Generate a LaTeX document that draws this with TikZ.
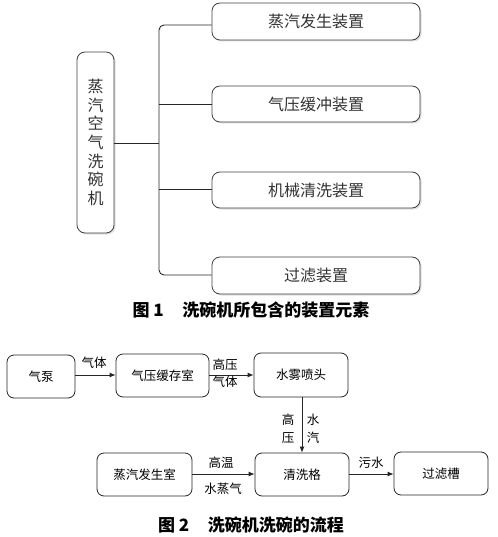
\documentclass[tikz,border=0pt]{standalone}
\usepackage{fontspec}
\setmainfont{Noto Sans CJK SC}
\usetikzlibrary{arrows.meta,shadows}
\begin{document}
\begin{tikzpicture}[x=1pt,y=-1pt,
  tbox/.style={draw=black!75, line width=0.8pt, rounded corners=8pt, fill=white,
    drop shadow={shadow xshift=1.5pt,shadow yshift=-1.5pt,opacity=0.25},
    text=black!80, font=\fontsize{16}{18}\selectfont, inner sep=0pt},
  flowbox/.style={draw=black!85, line width=0.8pt, rounded corners=7pt, fill=white,
    font=\fontsize{12.5}{14}\selectfont, inner sep=0pt},
  lbl/.style={font=\fontsize{12.5}{14}\selectfont, inner sep=0pt},
  link/.style={draw=black!85, line width=0.9pt},
  arr/.style={draw=black!85, line width=0.8pt, -{Latex[length=6pt,width=5pt]}},
  captext/.style={font=\fontsize{17}{19}\selectfont\bfseries, inner sep=0pt}]
\useasboundingbox (0,0) rectangle (497,537);

% ---------- Figure 1 ----------
\node[tbox, minimum width=37pt, minimum height=181pt,
  font=\fontsize{16}{18.7}\selectfont, align=center] (m) at (95.5,142.5)
  {蒸\\汽\\空\\气\\洗\\碗\\机};
\node[tbox, minimum width=208pt, minimum height=37pt] (b1) at (316,21.5) {蒸汽发生装置};
\node[tbox, minimum width=208pt, minimum height=36pt] (b2) at (316,104) {气压缓冲装置};
\node[tbox, minimum width=208pt, minimum height=36pt] (b3) at (316,190) {机械清洗装置};
\node[tbox, minimum width=208pt, minimum height=37pt] (b4) at (316,275.5) {过滤装置};

\coordinate (t1) at (159,25);
\coordinate (t2) at (159,104);
\coordinate (t3) at (159,189);
\coordinate (t4) at (159,275);
\coordinate (tm) at (159,143);

\draw[link, rounded corners=5pt] (t1 -| b1.west) -- (t1) -- (t4) -- (t4 -| b4.west);
\draw[link] (t2) -- (t2 -| b2.west);
\draw[link] (t3) -- (t3 -| b3.west);
\draw[link] (m.east |- tm) -- (tm);

\node[captext] (c1) at (251,310) {图~1\hspace{1.1em}洗碗机所包含的装置元素};

% ---------- Figure 2 ----------
\node[flowbox, minimum width=68pt, minimum height=43pt] (qb) at (41,376.5) {气泵};
\node[flowbox, minimum width=93pt, minimum height=43pt] (hc) at (162.5,375.5) {气压缓存室};
\node[flowbox, minimum width=94pt, minimum height=44pt] (pt) at (301,375) {水雾喷头};
\node[flowbox, minimum width=95pt, minimum height=43pt] (zq) at (144.5,474.5) {蒸汽发生室};
\node[flowbox, minimum width=94pt, minimum height=43pt] (qx) at (302,474.5) {清洗格};
\node[flowbox, minimum width=94pt, minimum height=43pt] (gl) at (441,473.5) {过滤槽};

\coordinate (y1) at (0,375);
\coordinate (y2) at (0,474);
\coordinate (xv) at (302,0);

\draw[arr] (qb.east |- y1) -- (hc.west |- y1);
\draw[arr] (hc.east |- y1) -- (pt.west |- y1);
\draw[arr] (xv |- pt.south) -- (xv |- qx.north);
\draw[arr] (zq.east |- y2) -- (qx.west |- y2);
\draw[arr] (qx.east |- y2) -- (gl.west |- y2);

\node[lbl] (l1) at (94,363) {气体};
\node[lbl] (l2) at (225,365) {高压};
\node[lbl] (l3) at (225,382) {气体};
\node[lbl, align=center, font=\fontsize{12.5}{18}\selectfont] (l4) at (288,429) {高\\压};
\node[lbl, align=center, font=\fontsize{12.5}{18}\selectfont] (l5) at (313,429) {水\\汽};
\node[lbl] (l6) at (221,463) {高温};
\node[lbl] (l7) at (223,489) {水蒸气};
\node[lbl] (l8) at (371,463) {污水};

\node[captext] (c2) at (251,525) {图~2\hspace{1.1em}洗碗机洗碗的流程};
\end{tikzpicture}
\end{document}
